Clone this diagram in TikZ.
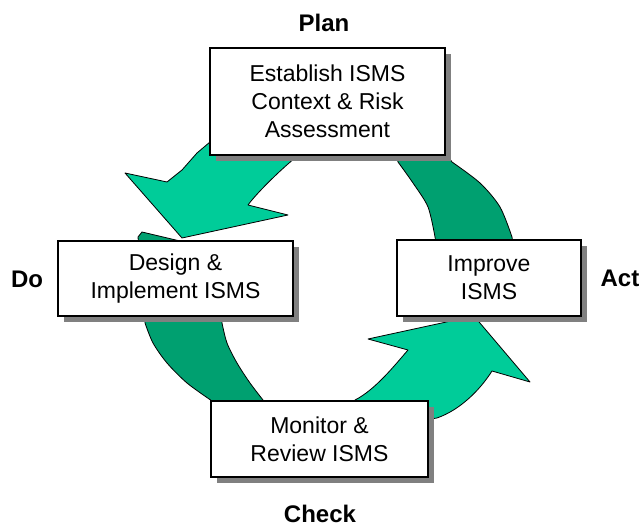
\documentclass[tikz,border=0pt]{standalone}
\usepackage{fontspec}
\setmainfont{Liberation Sans}
\usetikzlibrary{shadows}
\definecolor{lightgreen}{HTML}{00CC99}
\definecolor{darkgreen}{HTML}{00A070}
\definecolor{shadowgray}{HTML}{808080}
\begin{document}
\begin{tikzpicture}[x=1pt,y=-1pt,
  stagebox/.style={draw=black, line width=1.5pt, fill=white, align=center, inner sep=0pt,
    font=\fontsize{23}{28}\selectfont,
    drop shadow={shadow xshift=6pt, shadow yshift=-6pt, fill=shadowgray, opacity=1}},
  phaselabel/.style={font=\bfseries\fontsize{24}{28}\selectfont, inner sep=1pt},
  lightarrow/.style={fill=lightgreen, draw=black, line width=0.8pt, line join=round},
  darkband/.style={fill=darkgreen, draw=black, line width=0.8pt, line join=round}]
\useasboundingbox[fill=white] (0,0) rectangle (641,529);

% dark bands
\draw[darkband] (392,140) -- plot[smooth] coordinates {(398,162) (413,183) (428,207) (435,237)}
  -- (437,250) -- (514,250)
  -- plot[smooth] coordinates {(512,237) (500,207) (480,183) (452,162)} -- (440,145) -- cycle;
\draw[darkband] (138,237) -- (142,232) -- (218,250)
  -- plot[smooth] coordinates {(222,323) (227,343) (237,363) (250,383) (263,400)}
  -- (266,412) -- (214,412)
  -- plot[smooth] coordinates {(212,401) (187,383) (167,363) (153,343) (145,323)} -- cycle;

% light arrows
\draw[lightarrow] (222,128) -- (210,142) -- (197,153) -- (182,170) -- (167,182) -- (125,173)
  -- (182,238) -- (288,215) -- (248,205) .. controls (256,194) and (278,172) .. (295,158)
  -- (300,140) -- cycle;
\draw[lightarrow] (345,415) -- (355,400) .. controls (375,390) and (395,365) .. (408,350)
  -- (368,339) -- (474,316) -- (530,382) -- (492,371)
  .. controls (480,390) and (460,410) .. (437,418) -- (425,420) -- cycle;

% boxes
\node[stagebox, minimum width=235pt, minimum height=107pt] (plan) at (327.5,101.5)
  {Establish ISMS\\Context \& Risk\\Assessment};
\node[stagebox, minimum width=235pt, minimum height=75pt] (do) at (175.5,278.5)
  {Design \&\\Implement ISMS};
\node[stagebox, minimum width=184pt, minimum height=76pt] (act) at (489,278)
  {Improve\\ISMS};
\node[stagebox, minimum width=217pt, minimum height=76pt] (check) at (319.5,439)
  {Monitor \&\\Review ISMS};

% phase labels
\node[phaselabel] (planlbl) at (324,23) {Plan};
\node[phaselabel] (dolbl) at (27,279) {Do};
\node[phaselabel] (actlbl) at (620,278) {Act};
\node[phaselabel] (checklbl) at (320,514) {Check};
\end{tikzpicture}
\end{document}
